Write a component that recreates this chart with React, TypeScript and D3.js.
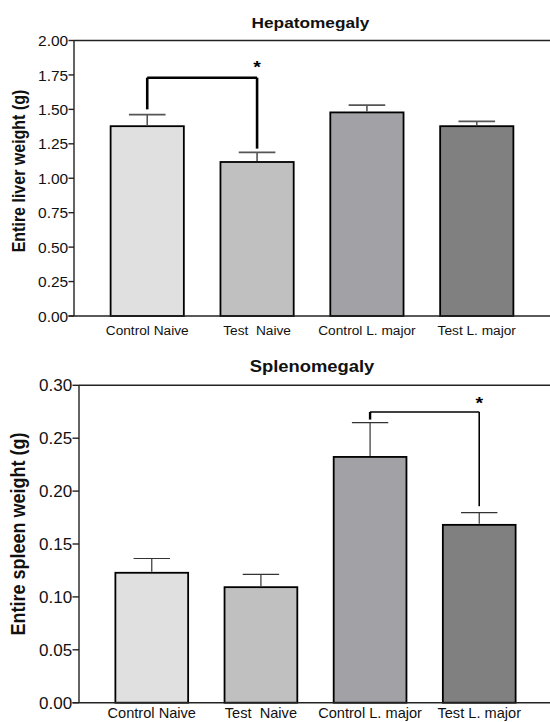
import React from "react";
import * as d3 from "d3";

const categories = ["Control Naive", "Test  Naive", "Control L. major", "Test L. major"];
const barFills = ["#e0e0e0", "#c0c0c0", "#a2a1a6", "#808080"];

const liverMeans = [1.378, 1.118, 1.478, 1.378];
const liverErrors = [0.084, 0.07, 0.053, 0.035];
const liverTicks = [0, 0.25, 0.5, 0.75, 1.0, 1.25, 1.5, 1.75, 2.0];
const liverBracket = { from: 0, to: 1, top: 1.73, leftEnd: 1.5, rightEnd: 1.215 };

const spleenMeans = [0.1228, 0.1092, 0.2323, 0.1681];
const spleenErrors = [0.0135, 0.012, 0.0324, 0.0116];
const spleenTicks = [0, 0.05, 0.1, 0.15, 0.2, 0.25, 0.3];
const spleenBracket = { from: 2, to: 3, top: 0.2748, leftEnd: 0.2676, rightEnd: 0.1857 };

const SX = 1.15;
const FONT = "Arial, 'Liberation Sans', Helvetica, sans-serif";

type PanelProps = {
  title: string;
  yLabel: string;
  means: number[];
  errors: number[];
  ticks: number[];
  bracket: { from: number; to: number; top: number; leftEnd: number; rightEnd: number };
  x0: number;
  x1: number;
  yTop: number;
  yBottom: number;
  titleX: number;
  titleY: number;
  titleSize: number;
  yLabelX: number;
  yLabelY: number;
  yLabelSize: number;
  tickSize: number;
  tickLen: number;
  xLabelY: number;
  xLabelSize: number;
  bracketWidth: number;
  leftTickWidth: number;
  errColor: string;
  errWidth: number;
  starY: number;
};

function Panel(p: PanelProps) {
  const x = d3
    .scaleBand<string>()
    .domain(categories)
    .range([p.x0, p.x1])
    .paddingInner(1 / 3)
    .paddingOuter(1 / 3);
  const y = d3
    .scaleLinear()
    .domain([p.ticks[0], p.ticks[p.ticks.length - 1]])
    .range([p.yBottom, p.yTop]);
  const fmt = d3.format(".2f");
  const bw = x.bandwidth();
  const cx = (i: number) => (x(categories[i]) as number) + bw / 2;
  const capHalf = bw / 4;
  const b = p.bracket;
  const bl = cx(b.from);
  const br = cx(b.to);
  return (
    <g>
      <text
        transform={`translate(${p.titleX},${p.titleY}) scale(${SX},1)`}
        textAnchor="middle"
        fontFamily={FONT}
        fontWeight="bold"
        fontSize={p.titleSize}
        fill="#111"
      >
        {p.title}
      </text>
      <text
        transform={`translate(${p.yLabelX},${p.yLabelY}) scale(${SX},1) rotate(-90)`}
        textAnchor="middle"
        fontFamily={FONT}
        fontWeight="bold"
        fontSize={p.yLabelSize}
        fill="#111"
      >
        {p.yLabel}
      </text>
      {/* bars */}
      {p.means.map((m, i) => (
        <rect
          key={"bar" + i}
          x={x(categories[i])}
          y={y(m)}
          width={bw}
          height={y(0) - y(m)}
          fill={barFills[i]}
          stroke="#000"
          strokeWidth={1.8}
        />
      ))}
      {/* error bars */}
      {p.means.map((m, i) => (
        <g key={"err" + i} stroke={p.errColor} strokeWidth={p.errWidth}>
          <line x1={cx(i)} x2={cx(i)} y1={y(m) - 1} y2={y(m + p.errors[i])} />
          <line x1={cx(i) - capHalf} x2={cx(i) + capHalf} y1={y(m + p.errors[i])} y2={y(m + p.errors[i])} />
        </g>
      ))}
      {/* significance bracket */}
      <g stroke="#000" fill="none">
        <line x1={bl} x2={bl} y1={y(b.top)} y2={y(b.leftEnd)} strokeWidth={p.leftTickWidth} />
        <line x1={bl} x2={br} y1={y(b.top)} y2={y(b.top)} strokeWidth={p.bracketWidth} />
        <line x1={br} x2={br} y1={y(b.top)} y2={y(b.rightEnd)} strokeWidth={p.bracketWidth} />
      </g>
      <text
        transform={`translate(${br},${p.starY}) scale(${SX},1)`}
        textAnchor="middle"
        fontFamily={FONT}
        fontWeight="bold"
        fontSize={17}
        fill="#000"
      >
        *
      </text>
      {/* frame */}
      <g stroke="#222" strokeWidth={1.4} fill="none">
        <line x1={p.x0} x2={p.x0} y1={p.yTop} y2={p.yBottom} />
        <line x1={p.x0} x2={550} y1={p.yTop} y2={p.yTop} />
        <line x1={p.x0 - p.tickLen} x2={550} y1={p.yBottom} y2={p.yBottom} />
        {p.ticks.map((t) => (
          <line key={"tk" + t} x1={p.x0 - p.tickLen} x2={p.x0} y1={y(t)} y2={y(t)} />
        ))}
      </g>
      {p.ticks.map((t) => (
        <text
          key={"tl" + t}
          x={p.x0 - p.tickLen - 0.3}
          y={y(t)}
          textAnchor="end"
          dy="0.36em"
          fontFamily={FONT}
          fontSize={p.tickSize}
          fill="#111"
        >
          {fmt(t)}
        </text>
      ))}
      {categories.map((c, i) => (
        <text
          key={"xl" + i}
          x={cx(i)}
          y={p.xLabelY}
          textAnchor="middle"
          fontFamily={FONT}
          fontSize={p.xLabelSize}
          fill="#111"
          style={{ whiteSpace: "pre" }}
        >
          {c}
        </text>
      ))}
    </g>
  );
}

export default function App() {
  return (
    <svg
      width={550}
      height={722}
      viewBox="0 0 550 722"
      style={{ position: "absolute", left: 0, top: 0, background: "#fff" }}
    >
      <rect x={0} y={0} width={550} height={722} fill="#fff" />
      <Panel
        title="Hepatomegaly"
        yLabel="Entire liver weight (g)"
        means={liverMeans}
        errors={liverErrors}
        ticks={liverTicks}
        bracket={liverBracket}
        x0={74}
        x1={550}
        yTop={40.5}
        yBottom={316}
        titleX={310.5}
        titleY={27.5}
        titleSize={15}
        yLabelX={25}
        yLabelY={171}
        yLabelSize={16}
        tickSize={15.5}
        tickLen={5.5}
        xLabelY={335}
        xLabelSize={13.7}
        bracketWidth={2.6}
        leftTickWidth={2.6}
        errColor="#555"
        errWidth={1.6}
        starY={73}
      />
      <Panel
        title="Splenomegaly"
        yLabel="Entire spleen weight (g)"
        means={spleenMeans}
        errors={spleenErrors}
        ticks={spleenTicks}
        bracket={spleenBracket}
        x0={79}
        x1={552}
        yTop={385.3}
        yBottom={702.7}
        titleX={312}
        titleY={371.5}
        titleSize={16}
        yLabelX={25}
        yLabelY={534}
        yLabelSize={18}
        tickSize={17}
        tickLen={6.5}
        xLabelY={718}
        xLabelSize={14.6}
        bracketWidth={1.6}
        leftTickWidth={2.4}
        errColor="#333"
        errWidth={1.2}
        starY={409}
      />
    </svg>
  );
}
